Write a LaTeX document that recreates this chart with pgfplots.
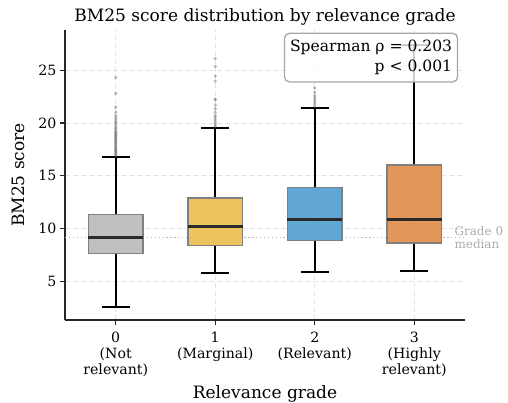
\documentclass[border=0pt]{standalone}
\usepackage{fontspec}
\setmainfont{DejaVu Serif}
\usepackage{pgfplots}
\pgfplotsset{compat=1.18}
\usepgfplotslibrary{statistics}
\definecolor{cgray}{HTML}{BBBBBB}
\definecolor{cyellow}{HTML}{EDBD4E}
\definecolor{cblue}{HTML}{52A0CF}
\definecolor{corange}{HTML}{E08F4C}
\definecolor{edgegray}{HTML}{808080}
\definecolor{medgray}{HTML}{2A2A2A}
\definecolor{outgray}{HTML}{707070}
\pgfplotsset{
  mybox/.style={
    boxplot/draw direction=y,
    boxplot/box extend=0.55, boxplot/whisker extend=0.28,
    boxplot/every box/.style={draw=edgegray, line width=1.4pt, fill opacity=0.92},
    boxplot/every whisker/.style={draw=black, line width=2pt},
    boxplot/every median/.style={draw=medgray, line width=2.8pt},
    draw=black, line width=2pt,
    mark=*, mark size=1.5pt, mark options={solid, fill=outgray, draw=outgray, line width=0.2pt, fill opacity=0.45, draw opacity=0.45},
  },
}
\begin{document}
\begin{tikzpicture}
\path[use as bounding box] (-65bp,-83bp) rectangle (443bp,320bp);
\begin{axis}[
  scale only axis, width=400bp, height=290bp,
  xmin=-0.51, xmax=3.51, ymin=1.35, ymax=28.8,
  axis x line*=bottom, axis y line*=left,
  axis line style={line width=1.2pt, black!85, -},
  xtick={0,1,2,3},
  xticklabels={{0\\(Not\\relevant)},{1\\(Marginal)},{2\\(Relevant)},{3\\(Highly\\relevant)}},
  xticklabel style={align=center, yshift=-3bp, font=\fontsize{14.2}{16.3}\selectfont},
  ytick={5,10,15,20,25},
  yticklabel style={font=\fontsize{14.2}{16.3}\selectfont},
  /pgf/number format/assume math mode=true,
  tick align=outside, major tick length=5bp,
  tick style={line width=1.1pt, black!85},
  grid=major,
  major grid style={dash pattern=on 5bp off 3bp, gray!22, line width=0.8pt},
  title={BM25 score distribution by relevance grade},
  title style={at={(axis description cs:0.5,1.0286)}, anchor=base, yshift=-6pt, font=\fontsize{17.1}{20}\selectfont},
  xlabel={Relevance grade},
  xlabel style={at={(axis description cs:0.5,-0.271)}, anchor=base, font=\fontsize{17.1}{20}\selectfont},
  ylabel={BM25 score},
  ylabel style={at={(axis description cs:-0.1,0.5)}, anchor=base, font=\fontsize{17.1}{20}\selectfont},
  clip=false,
]
% reference line (grade 0 median)
\addplot[gray!55, dash pattern=on 1.3bp off 2.6bp, line width=1.3pt, forget plot] coordinates {(-0.51,9.18) (3.49,9.18)};

\addplot[mybox, fill=cgray, boxplot prepared={draw position=0, lower whisker=2.57, lower quartile=7.63, median=9.18, upper quartile=11.33, upper whisker=16.77}]
  table[row sep=\\, y index=0] {
  data\\ 16.9\\ 17.0\\ 17.1\\ 17.2\\ 17.3\\ 17.4\\ 17.5\\ 17.6\\ 17.7\\ 17.8\\ 17.9\\ 18.0\\ 18.1\\ 18.2\\ 18.3\\ 18.4\\ 18.5\\ 18.6\\ 18.7\\ 18.8\\ 18.9\\ 19.0\\ 19.1\\ 19.2\\ 19.35\\ 19.5\\ 19.6\\ 19.8\\ 20.0\\ 20.1\\ 20.3\\ 20.5\\ 20.7\\ 21.0\\ 21.5\\ 22.8\\ 24.3\\
  };

\addplot[mybox, fill=cyellow, boxplot prepared={draw position=1, lower whisker=5.8, lower quartile=8.39, median=10.19, upper quartile=12.88, upper whisker=19.52}]
  table[row sep=\\, y index=0] {
  data\\ 19.7\\ 19.9\\ 20.1\\ 20.3\\ 20.5\\ 20.7\\ 21.0\\ 21.35\\ 21.7\\ 22.2\\ 22.25\\ 23.95\\ 24.45\\ 25.35\\ 26.1\\
  };

\addplot[mybox, fill=cblue, boxplot prepared={draw position=2, lower whisker=5.89, lower quartile=8.9, median=10.86, upper quartile=13.9, upper whisker=21.42}]
  table[row sep=\\, y index=0] {
  data\\ 21.6\\ 21.8\\ 22.0\\ 22.2\\ 22.4\\ 22.6\\ 22.9\\ 23.3\\
  };

\addplot[mybox, fill=corange, boxplot prepared={draw position=3, lower whisker=6.0, lower quartile=8.65, median=10.83, upper quartile=16.02, upper whisker=27.4}]
  coordinates {};

\node[draw=gray!70, line width=1.3pt, rounded corners=5bp, fill=white, fill opacity=0.8, text opacity=1,
  align=right, anchor=north east, inner xsep=5.5bp, inner ysep=7bp,
  font=\fontsize{15.6}{20}\selectfont]
  at (rel axis cs:0.983,0.991) {Spearman ρ = 0.203\\p < 0.001};

\node[anchor=west, align=left, text=gray!65, font=\fontsize{12}{13.5}\selectfont]
  at (axis cs:3.37,9.18) {Grade 0\\median};
\end{axis}
\end{tikzpicture}
\end{document}
